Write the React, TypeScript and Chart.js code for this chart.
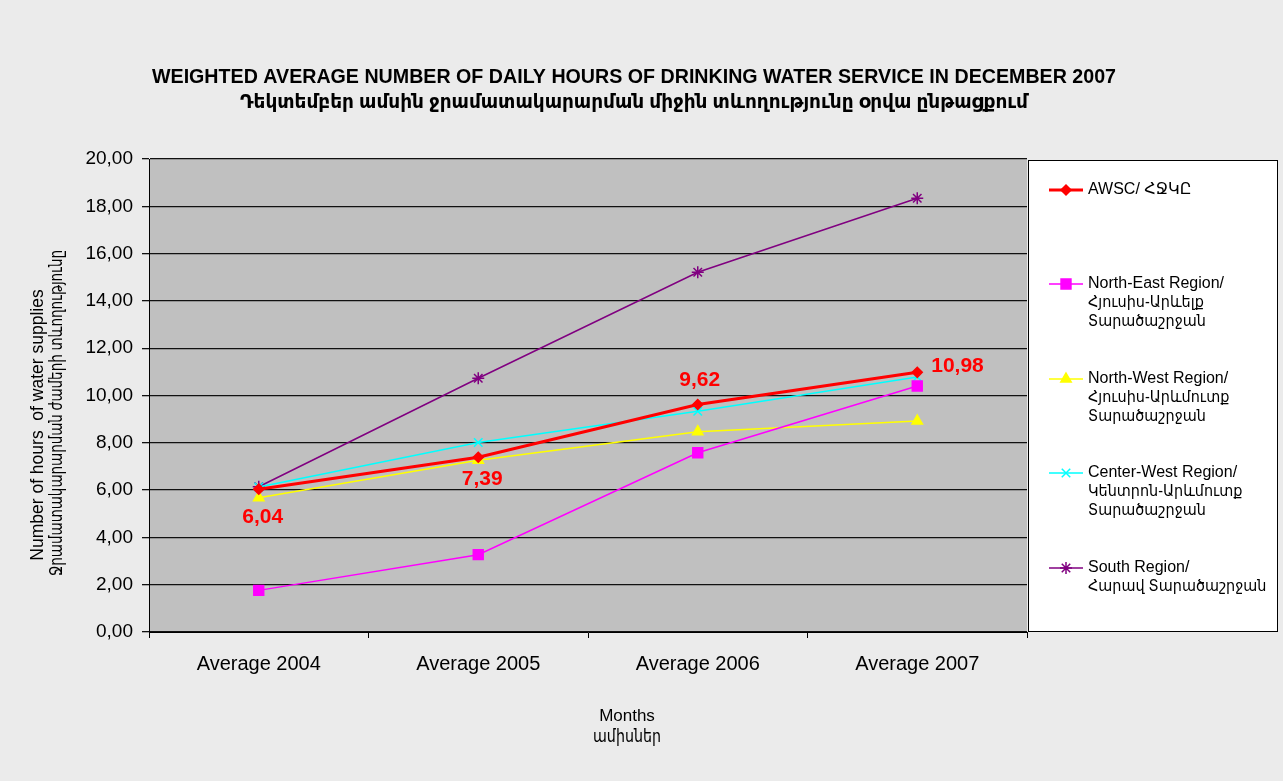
import React, { useEffect, useRef } from "react";
import { Chart, registerables } from "chart.js";
import { drawPoint } from "chart.js/helpers";

Chart.register(...registerables);

const categories = ["Average 2004", "Average 2005", "Average 2006", "Average 2007"];
const awsc = [6.04, 7.39, 9.62, 10.98];
const northEast = [1.76, 3.27, 7.58, 10.4];
const northWest = [5.68, 7.26, 8.47, 8.92];
const centerWest = [6.13, 8.01, 9.33, 10.78];
const south = [6.14, 10.73, 15.21, 18.34];

const titleLines = [
  "WEIGHTED AVERAGE NUMBER OF DAILY HOURS OF DRINKING WATER SERVICE IN DECEMBER 2007",
  "Դեկտեմբեր ամսին ջրամատակարարման միջին տևողությունը օրվա ընթացքում",
];
const yTitleLines = ["Number of hours  of water supplies", "Ջրամատակարարման ժամերի տևողությունը"];
const xTitleLines = ["Months", "ամիսներ"];

const legendLabels = [
  ["AWSC/ ՀՋԿԸ"],
  ["North-East Region/", "Հյուսիս-Արևելք", "Տարածաշրջան"],
  ["North-West Region/", "Հյուսիս-Արևմուտք", "Տարածաշրջան"],
  ["Center-West Region/", "Կենտրոն-Արևմուտք", "Տարածաշրջան"],
  ["South Region/", "Հարավ Տարածաշրջան"],
];
const labelPlacement = ["below", "below", "above", "right"];

const FONT = "'Liberation Sans', Arial, 'DejaVu Sans', sans-serif";
const isPureArmenian = (t: string) => /[\u0530-\u058F]/.test(t) && !/[A-Za-z]/.test(t);

const decorPlugin = {
  id: "decor",
  beforeDraw(chart: any) {
    const { ctx, chartArea: a } = chart;
    ctx.save();
    ctx.fillStyle = "#ebebeb";
    ctx.fillRect(0, 0, chart.width, chart.height);
    ctx.fillStyle = "#c0c0c0";
    ctx.fillRect(a.left, a.top, a.right - a.left, a.bottom - a.top);
    ctx.restore();
  },
  afterDraw(chart: any) {
    const { ctx, chartArea: a } = chart;
    ctx.save();
    // titles
    ctx.fillStyle = "#000";
    ctx.textAlign = "center";
    ctx.textBaseline = "middle";
    ctx.font = `bold 20px ${FONT}`;
    ctx.fillText(titleLines[0], 634, 77, 964);
    ctx.font = `bold 19px ${FONT}`;
    ctx.fillText(titleLines[1], 634, 103, 788);
    // y title
    ctx.save();
    ctx.translate(38, 425);
    ctx.rotate(-Math.PI / 2);
    ctx.font = `17.5px ${FONT}`;
    ctx.fillText(yTitleLines[0], 0, 0, 276);
    ctx.restore();
    ctx.save();
    ctx.translate(57, 413);
    ctx.rotate(-Math.PI / 2);
    ctx.font = `17px ${FONT}`;
    ctx.fillText(yTitleLines[1], 0, 0, 326);
    ctx.restore();
    // x title
    ctx.font = `17px ${FONT}`;
    ctx.fillText(xTitleLines[0], 627, 716);
    ctx.fillText(xTitleLines[1], 627, 737, 68);

    // legend
    const lx = a.right + 1;
    const ly = a.top + 1;
    ctx.fillStyle = "#fff";
    ctx.fillRect(lx, ly, 249, 471);
    ctx.strokeStyle = "#000";
    ctx.lineWidth = 1;
    ctx.strokeRect(lx + 0.5, ly + 0.5, 249, 471);
    const entryY = [190, 284, 379, 473, 568];
    chart.data.datasets.forEach((ds: any, i: number) => {
      const y = entryY[i];
      ctx.strokeStyle = ds.borderColor;
      ctx.lineWidth = ds.borderWidth;
      ctx.beginPath();
      ctx.moveTo(1049, y);
      ctx.lineTo(1083, y);
      ctx.stroke();
      ctx.fillStyle = ds.pointBackgroundColor;
      ctx.strokeStyle = ds.pointBorderColor;
      ctx.lineWidth = ds.pointBorderWidth;
      drawPoint(ctx, { pointStyle: ds.pointStyle, radius: ds.pointRadius, rotation: 0, borderWidth: ds.pointBorderWidth }, 1066, y);
      ctx.fillStyle = "#000";
      ctx.textAlign = "left";
      ctx.textBaseline = "middle";
      ctx.font = `16px ${FONT}`;
      legendLabels[i].forEach((t, k) => {
        if (isPureArmenian(t)) {
          const w = ctx.measureText(t).width;
          ctx.fillText(t, 1088, y + k * 19, w * 0.9);
        } else {
          ctx.fillText(t, 1088, y + k * 19);
        }
      });
    });

    // data labels for AWSC
    const meta = chart.getDatasetMeta(0);
    ctx.fillStyle = "#ff0000";
    ctx.font = `bold 21px ${FONT}`;
    ctx.textBaseline = "middle";
    meta.data.forEach((p: any, i: number) => {
      const txt = awsc[i].toFixed(2).replace(".", ",");
      const place = labelPlacement[i];
      if (place === "below") {
        ctx.textAlign = "center";
        ctx.fillText(txt, p.x + 4, p.y + (i === 0 ? 28 : 22));
      } else if (place === "above") {
        ctx.textAlign = "center";
        ctx.fillText(txt, p.x + 2, p.y - 24);
      } else {
        ctx.textAlign = "left";
        ctx.fillText(txt, p.x + 14, p.y - 6);
      }
    });
    ctx.restore();
  },
};

export default function App() {
  const ref = useRef<HTMLCanvasElement | null>(null);
  useEffect(() => {
    if (!ref.current) return;
    const mk = (label: string, data: number[], color: string, style: string, width: number, radius: number) => ({
      label,
      data,
      borderColor: color,
      backgroundColor: color,
      borderWidth: width,
      pointStyle: style,
      pointRadius: radius,
      pointHoverRadius: radius,
      pointBackgroundColor: color,
      pointBorderColor: color,
      pointBorderWidth: 1.5,
      tension: 0,
      fill: false,
    });
    const chart = new Chart(ref.current, {
      type: "line",
      data: {
        labels: categories,
        datasets: [
          mk("AWSC", awsc, "#ff0000", "rectRot", 3, 5),
          mk("North-East Region", northEast, "#ff00ff", "rect", 1.5, 7),
          mk("North-West Region", northWest, "#ffff00", "triangle", 1.5, 6),
          mk("Center-West Region", centerWest, "#00ffff", "crossRot", 1.5, 6),
          mk("South Region", south, "#800080", "star", 1.5, 6),
        ],
      },
      options: {
        responsive: false,
        animation: false,
        events: [],
        layout: { padding: { top: 159, right: 256, left: 0, bottom: 0 } },
        plugins: { legend: { display: false }, tooltip: { enabled: false }, title: { display: false } },
        scales: {
          x: {
            offset: true,
            grid: { offset: true, drawOnChartArea: false, drawTicks: true, tickLength: 6, color: "#000", lineWidth: 1 },
            border: { display: true, color: "#000", width: 1 },
            ticks: { color: "#000", font: { family: FONT, size: 20 }, padding: 14, maxRotation: 0 },
            afterFit: (s: any) => {
              s.height = 149;
            },
          },
          y: {
            min: 0,
            max: 20,
            ticks: {
              stepSize: 2,
              color: "#000",
              font: { family: FONT, size: 19 },
              padding: 9,
              callback: (v: any) => Number(v).toFixed(2).replace(".", ","),
            },
            grid: { color: "#111", lineWidth: 1.3, tickLength: 7, drawTicks: true },
            border: { display: true, color: "#000", width: 1 },
            afterFit: (s: any) => {
              s.width = 149;
            },
          },
        },
      },
      plugins: [decorPlugin],
    });
    return () => chart.destroy();
  }, []);
  return (
    <div style={{ position: "absolute", left: 0, top: 0, width: 1283, height: 781 }}>
      <canvas ref={ref} width={1283} height={781} style={{ display: "block", width: 1283, height: 781 }} />
    </div>
  );
}
